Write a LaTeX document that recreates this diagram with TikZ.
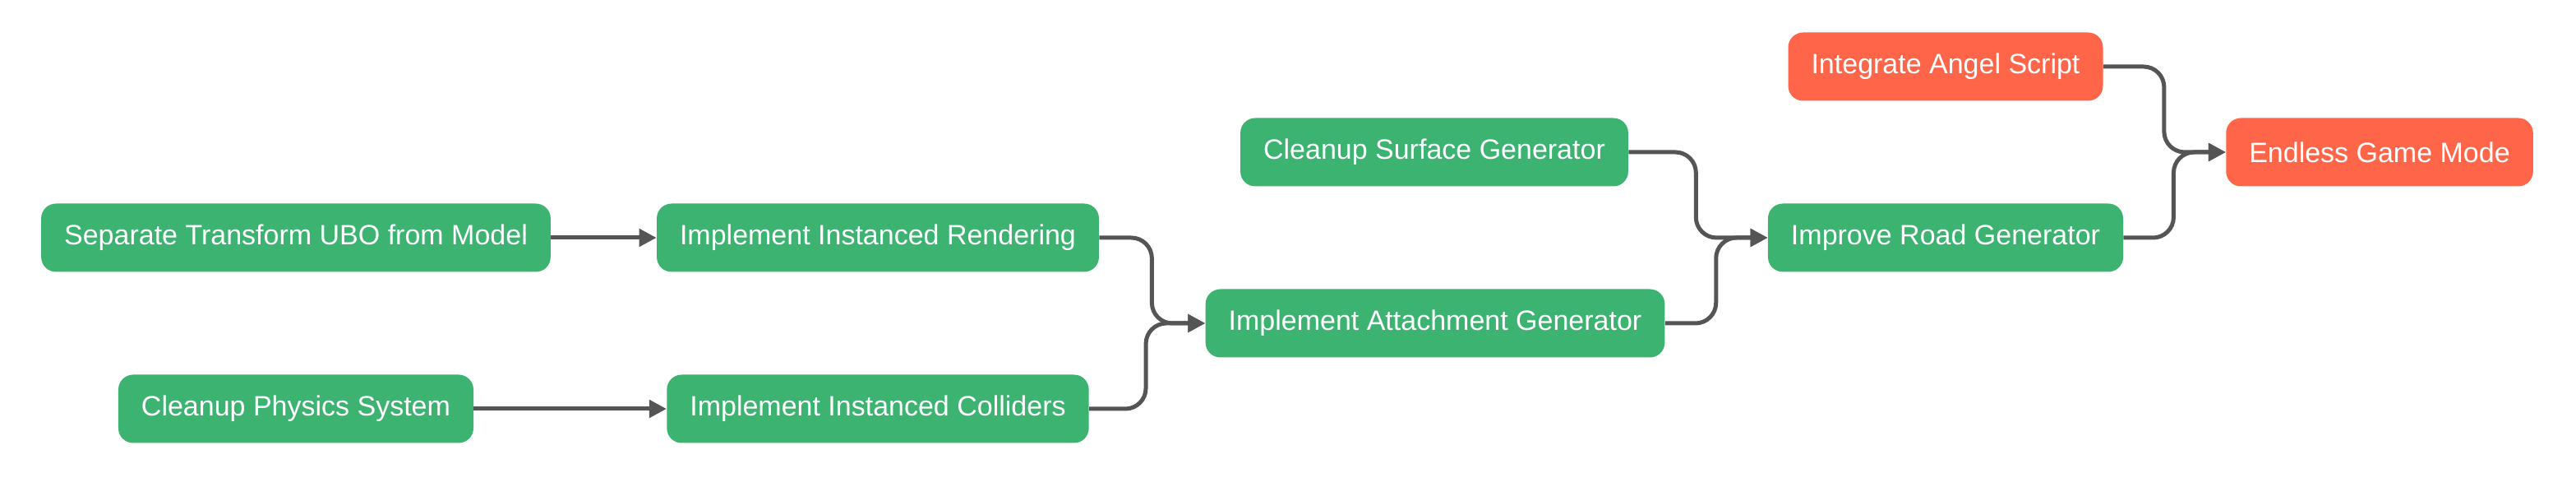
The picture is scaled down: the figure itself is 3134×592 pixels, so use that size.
\documentclass[tikz,border=0pt]{standalone}
\usepackage{fontspec}
\setmainfont{Liberation Sans}
\usepackage{xcolor}
\usetikzlibrary{arrows.meta}
\definecolor{leaf}{RGB}{60,179,113}
\definecolor{tomato}{RGB}{255,101,72}
\definecolor{wire}{RGB}{85,85,85}

\begin{document}
\begin{tikzpicture}[x=0.5pt,y=-0.5pt,>={Triangle[length=10.5pt,width=10.5pt]},
  box/.style={rounded corners=9pt,text=white,minimum height=41.5pt,inner xsep=14pt,font=\fontsize{17pt}{20pt}\selectfont},
  task/.style={box,fill=leaf},
  goal/.style={box,fill=tomato},
  link/.style={->,line width=2.5pt,draw=wire,rounded corners=12.5pt}]
  \useasboundingbox (0,0) rectangle (3134,592);
  \node[task] (sep) at (360,289) {Separate Transform UBO from Model};
  \node[task] (render) at (1068,289) {Implement Instanced Rendering};
  \node[task] (physics) at (360,497) {Cleanup Physics System};
  \node[task] (collide) at (1068,497) {Implement Instanced Colliders};
  \node[task] (attach) at (1746,393) {Implement Attachment Generator};
  \node[task] (surface) at (1745,185) {Cleanup Surface Generator};
  \node[task] (road) at (2367,289) {Improve Road Generator};
  \node[goal] (angel) at (2367,81) {Integrate Angel Script};
  \node[goal] (endless) at (2895,185) {Endless Game Mode};
  % dependencies, left to right
  \draw[link] (sep) -- (render);
  \draw[link] (physics) -- (collide);
  \draw[link] (render.east) -- ++(64,0) |- (attach.west);
  \draw[link] (collide.east) -- ++(69,0) |- (attach.west);
  \draw[link] (surface.east) -- ++(82,0) |- (road.west);
  \draw[link] (attach.east) -- ++(62,0) |- (road.west);
  \draw[link] (angel.east) -- ++(74,0) |- (endless.west);
  \draw[link] (road.east) -- ++(61,0) |- (endless.west);
\end{tikzpicture}
\end{document}
